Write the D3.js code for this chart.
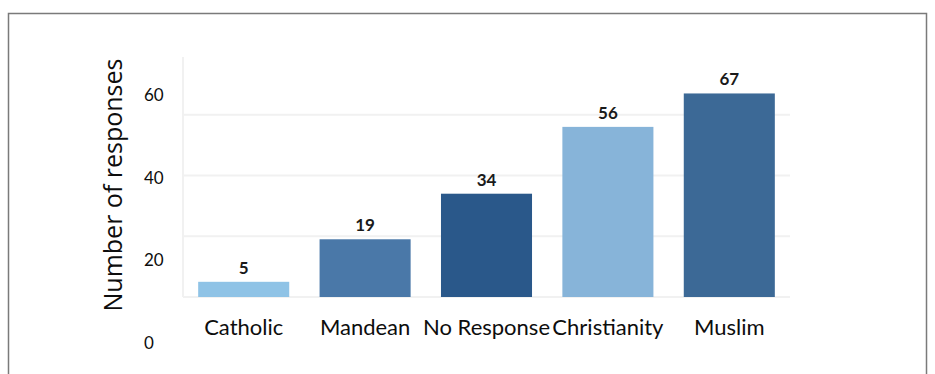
<!DOCTYPE html>
<html>
<head>
<meta charset="utf-8">
<script src="https://cdn.jsdelivr.net/npm/d3@7"></script>
<style>
  html, body { margin: 0; padding: 0; background: #fff; }
  svg { display: block; }
</style>
</head>
<body>
<svg id="chart" width="935" height="374"></svg>
<script>
// Responses by religious affiliation
const categories = ["Catholic", "Mandean", "No Response", "Christianity", "Muslim"];
const responses = [5, 19, 34, 56, 67];
const barColors = ["#8fc3e6", "#4a78a8", "#2a588a", "#87b4d9", "#3c6996"];
const gridValues = [20, 40, 60];
const tickLabels = [0, 20, 40, 60];

const svg = d3.select("#chart");

// outer frame
svg.append("rect")
  .attr("x", 8.5).attr("y", 13.5)
  .attr("width", 918).attr("height", 380)
  .attr("fill", "none")
  .attr("stroke", "#7a7a7a")
  .attr("stroke-width", 1.5);

const plot = { left: 183, right: 790, top: 57, bottom: 297 };

const x = d3.scaleBand()
  .domain(categories)
  .range([plot.left, plot.right])
  .paddingInner(0.25)
  .paddingOuter(0.125);

const y = d3.scaleLinear()
  .domain([0, 79])
  .range([plot.bottom, plot.top]);

// value axis labels sit on their own, wider spaced scale
const yLabel = d3.scaleLinear()
  .domain([0, 60])
  .range([343, 95]);

// gridlines and baseline
svg.append("g")
  .selectAll("line")
  .data([0].concat(gridValues))
  .join("line")
  .attr("x1", plot.left).attr("x2", plot.right)
  .attr("y1", d => y(d)).attr("y2", d => y(d))
  .attr("stroke", "#f1f1f1")
  .attr("stroke-width", 2);

// faint vertical axis line
svg.append("line")
  .attr("x1", plot.left).attr("x2", plot.left)
  .attr("y1", plot.top).attr("y2", plot.bottom)
  .attr("stroke", "#f1f1f1")
  .attr("stroke-width", 2);

// bars
svg.append("g")
  .selectAll("rect")
  .data(categories)
  .join("rect")
  .attr("x", d => x(d))
  .attr("width", x.bandwidth())
  .attr("y", (d, i) => y(responses[i]))
  .attr("height", (d, i) => y(0) - y(responses[i]))
  .attr("fill", (d, i) => barColors[i]);

// value labels
svg.append("g")
  .selectAll("text")
  .data(categories)
  .join("text")
  .attr("x", d => x(d) + x.bandwidth() / 2)
  .attr("y", (d, i) => y(responses[i]) - 8)
  .attr("text-anchor", "middle")
  .attr("font-family", "Lato, 'Open Sans', sans-serif")
  .attr("font-weight", "bold")
  .attr("font-size", 17)
  .attr("fill", "#1a1a1a")
  .text((d, i) => responses[i]);

// category axis
const xAxis = svg.append("g")
  .attr("transform", `translate(0, ${plot.bottom})`)
  .call(d3.axisBottom(x).tickSize(0).tickPadding(0));
xAxis.select(".domain").remove();
xAxis.selectAll("text")
  .attr("y", 38)
  .attr("dy", 0)
  .attr("font-family", "Lato, 'Open Sans', sans-serif")
  .attr("font-size", 22)
  .attr("fill", "#0d0d0d");

// value axis
const yAxis = svg.append("g")
  .attr("transform", "translate(144, 0)")
  .call(d3.axisLeft(yLabel).tickValues(tickLabels).tickSize(0).tickPadding(0));
yAxis.select(".domain").remove();
yAxis.selectAll("text")
  .attr("text-anchor", "start")
  .attr("x", 0)
  .attr("font-family", "Lato, 'Open Sans', sans-serif")
  .attr("font-size", 17)
  .attr("fill", "#0d0d0d");

// axis title
svg.append("text")
  .attr("transform", "translate(122, 185) rotate(-90)")
  .attr("text-anchor", "middle")
  .attr("font-family", "'Open Sans', sans-serif")
  .attr("font-size", 25)
  .attr("fill", "#0d0d0d")
  .text("Number of responses");
</script>
</body>
</html>
